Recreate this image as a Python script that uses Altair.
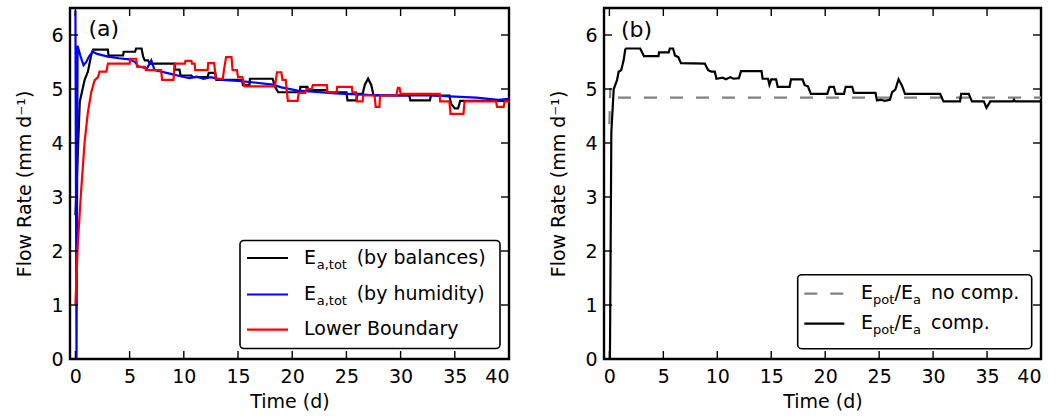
import altair as alt
import pandas as pd

# ---------------- data ----------------
bal_t = [0.0, 0.4, 0.85, 1.15, 1.45, 1.62, 3.0, 3.05, 4.4, 4.45, 5.5, 5.6, 6.1, 6.25, 6.4, 6.7, 6.85,
         9.15, 9.2, 9.6, 9.7, 10.7, 10.8, 12.2, 12.3, 12.9, 13.0, 15.4, 15.45, 16.05, 16.1, 18.2, 18.4,
         18.7, 20.7, 20.75, 21.4, 21.5, 23.2, 23.25, 25.0, 25.1, 25.9, 26.05, 26.5, 26.7, 27.0, 27.3,
         27.5, 30.8, 30.9, 32.7, 32.8, 34.5, 34.65, 35.0, 35.3, 35.5, 40.0]
bal_v = [2.66, 4.76, 5.17, 5.32, 5.62, 5.73, 5.73, 5.62, 5.62, 5.69, 5.69, 5.75, 5.75, 5.6, 5.53, 5.53, 5.47,
         5.47, 5.36, 5.36, 5.25, 5.25, 5.22, 5.22, 5.3, 5.3, 5.17, 5.17, 5.07, 5.07, 5.19, 5.19, 5.05,
         4.94, 4.94, 5.04, 5.04, 4.98, 4.98, 4.94, 4.94, 4.79, 4.79, 4.91, 4.91, 5.08, 5.19, 5.07,
         4.88, 4.88, 4.79, 4.79, 4.88, 4.88, 4.73, 4.64, 4.64, 4.78, 4.78]

hum_t = [0.0, 0.1, 0.2, 0.45, 0.75, 1.0, 1.25, 1.6, 2.0, 3.0, 4.0, 5.0, 5.5, 5.8, 6.6, 7.0, 7.3, 8.8,
         9.6, 10.5, 11.2, 11.8, 12.5, 13.5, 15.0, 16.5, 18.2, 19.0, 20.5, 21.9, 24.0, 27.0, 30.0, 33.0,
         35.0, 37.0, 39.0, 40.0]
hum_v = [6.45, 0.0, 5.8, 5.62, 5.44, 5.5, 5.6, 5.69, 5.65, 5.6, 5.57, 5.55, 5.5, 5.42, 5.38, 5.53, 5.35, 5.28,
         5.24, 5.2, 5.23, 5.19, 5.22, 5.17, 5.15, 5.12, 5.08, 5.03, 4.97, 4.95, 4.92, 4.89, 4.88, 4.88,
         4.86, 4.84, 4.8, 4.82]

low_t = [0.0, 0.23, 0.54, 0.85, 1.15, 1.46, 1.77, 2.08, 2.23, 2.85, 3.0, 5.0, 5.05, 5.6, 5.7, 6.4, 6.5,
         7.9, 8.0, 9.05, 9.15, 10.1, 10.15, 10.7, 10.75, 11.0, 11.05, 12.2, 12.25, 12.8, 12.95, 13.6,
         13.7, 13.9, 14.4, 14.5, 14.9, 15.0, 15.4, 15.6, 18.4, 18.6, 19.0, 19.1, 19.4, 19.6, 20.5, 20.6,
         21.2, 21.3, 21.8, 21.9, 23.2, 23.25, 24.1, 24.15, 25.5, 25.55, 25.9, 25.95, 26.5, 26.55, 27.6,
         27.7, 28.05, 28.1, 29.6, 29.75, 29.9, 30.0, 33.6, 33.65, 34.5, 34.6, 35.8, 35.9, 38.8, 38.9,
         39.5, 39.6, 40.0]
low_v = [1.0, 2.17, 3.15, 4.02, 4.57, 4.94, 5.16, 5.22, 5.32, 5.32, 5.47, 5.47, 5.56, 5.56, 5.41, 5.41, 5.35,
         5.35, 5.17, 5.17, 5.47, 5.47, 5.52, 5.52, 5.47, 5.47, 5.35, 5.35, 5.48, 5.48, 5.19, 5.19,
         5.35, 5.59, 5.59, 5.35, 5.35, 5.22, 5.22, 5.05, 5.05, 5.31, 5.31, 5.17, 5.17, 4.78, 4.78, 4.93,
         4.93, 5.0, 5.0, 5.07, 5.07, 4.94, 4.94, 5.04, 5.04, 4.94, 4.94, 4.77, 4.77, 4.88, 4.88,
         4.67, 4.67, 4.88, 4.88, 5.02, 5.02, 4.91, 4.91, 4.77, 4.77, 4.54, 4.54, 4.77, 4.77, 4.67,
         4.67, 4.77, 4.77]

comp_t = [0.05, 0.18, 0.4, 0.7, 0.86, 1.1, 1.32, 1.47, 1.55, 2.85, 3.2, 4.55, 4.6, 5.5, 5.6, 5.9, 6.08,
          6.39, 6.63, 8.84, 9.15, 9.46, 9.77, 9.92, 10.5, 10.8, 11.2, 11.5, 12.0, 12.2, 14.1, 14.2, 14.7,
          14.83, 15.0, 15.45, 15.6, 16.7, 16.83, 17.9, 18.1, 18.4, 18.67, 20.2, 20.4, 20.8, 20.98, 21.74,
          21.9, 22.5, 22.66, 24.66, 24.8, 25.2, 25.5, 26.0, 26.2, 26.5, 26.8, 27.1, 27.4, 30.65, 30.96,
          32.5, 32.6, 33.3, 33.6, 34.7, 34.95, 35.3, 37.4, 37.5, 37.6, 40.0]
comp_v = [0.0, 4.2, 5.0, 5.16, 5.32, 5.35, 5.53, 5.73, 5.75, 5.75, 5.61, 5.61, 5.68, 5.68, 5.75, 5.75, 5.62,
          5.59, 5.48, 5.47, 5.35, 5.32, 5.32, 5.19, 5.21, 5.18, 5.22, 5.19, 5.2, 5.33, 5.33, 5.19, 5.19,
          5.08, 5.18, 5.18, 5.04, 5.04, 5.18, 5.18, 5.07, 5.05, 4.91, 4.91, 5.04, 5.04, 4.91, 4.91,
          5.04, 5.04, 4.93, 4.93, 4.79, 4.8, 4.78, 4.8, 4.94, 4.99, 5.18, 5.07, 4.91, 4.91, 4.77,
          4.77, 4.91, 4.91, 4.77, 4.77, 4.65, 4.77, 4.77, 4.8, 4.77, 4.77]

nocomp_t = [0.0, 0.08, 0.25, 40.0]
nocomp_v = [4.35, 5.02, 4.84, 4.84]

x_ticks = [0, 5, 10, 15, 20, 25, 30, 35, 40]
y_ticks = [0, 1, 2, 3, 4, 5, 6]

# ---------------- styling ----------------
FONT = "DejaVu Sans"
FS = 19
H = 351
WA, WB = 439, 437
TICK = 8
X_TITLE = "Time (d)"
Y_TITLE = "Flow Rate (mm d\u207b\u00b9)"

xscale = alt.Scale(domain=[-0.5, 40], nice=False, zero=False)
yscale = alt.Scale(domain=[0, 6.5], nice=False, zero=False)

x_axis = alt.Axis(values=x_ticks, ticks=False, domain=False, grid=False, labelPadding=8,
                  titlePadding=6, format="d")
y_axis = alt.Axis(values=y_ticks, ticks=False, domain=False, grid=False, labelPadding=7,
                  titlePadding=16, format="d")


def series(t, v):
    return pd.DataFrame({"t": t, "v": v, "i": list(range(len(t)))})


def line(t, v, color, dash=None):
    kw = dict(color=color, strokeWidth=2.2, clip=True)
    if dash:
        kw["strokeDash"] = dash
    return alt.Chart(series(t, v)).mark_line(**kw).encode(
        x=alt.X("t:Q", scale=xscale, axis=x_axis, title=X_TITLE),
        y=alt.Y("v:Q", scale=yscale, axis=y_axis, title=Y_TITLE),
        order="i:Q",
    )


def tick_layers(width):
    xt = pd.DataFrame({"t": x_ticks})
    yt = pd.DataFrame({"v": y_ticks})
    common = dict(color="black", strokeWidth=1.4)
    bx = alt.X("t:Q", scale=xscale, axis=x_axis, title=X_TITLE)
    by = alt.Y("v:Q", scale=yscale, axis=y_axis, title=Y_TITLE)
    return [
        alt.Chart(xt).mark_rule(**common).encode(x=bx, y=alt.value(H), y2=alt.value(H - TICK)),
        alt.Chart(xt).mark_rule(**common).encode(x=bx, y=alt.value(0), y2=alt.value(TICK)),
        alt.Chart(yt).mark_rule(**common).encode(y=by, x=alt.value(0), x2=alt.value(TICK)),
        alt.Chart(yt).mark_rule(**common).encode(y=by, x=alt.value(width), x2=alt.value(width - TICK)),
    ]


one = pd.DataFrame({"k": [0]})


def txt(s, x, y, size=FS):
    return alt.Chart(one).mark_text(text=s, font=FONT, fontSize=size, align="left",
                                    baseline="alphabetic", color="black").encode(
        x=alt.value(x), y=alt.value(y))


def box(x1, x2, y1, y2):
    return alt.Chart(one).mark_rect(fill="white", stroke="black", strokeWidth=1.6,
                                    cornerRadius=4).encode(
        x=alt.value(x1), x2=alt.value(x2), y=alt.value(y1), y2=alt.value(y2))


def sample(x1, x2, y, color, dash=None):
    kw = dict(color=color, strokeWidth=2.2)
    if dash:
        kw["strokeDash"] = dash
    return alt.Chart(one).mark_rule(**kw).encode(x=alt.value(x1), x2=alt.value(x2), y=alt.value(y))


SUB = 13

# ---------------- panel (a) ----------------
legend_a = [
    box(170, 430, 232.5, 340.5),
    sample(177, 218, 250, "black"),
    txt("E", 234, 255.7), txt("a,tot", 246.7, 260.7, SUB), txt("(by balances)", 286.7, 255.7),
    sample(177, 218, 286.5, "blue"),
    txt("E", 234, 292.3), txt("a,tot", 246.7, 297.3, SUB), txt("(by humidity)", 286.7, 292.3),
    sample(177, 218, 321.7, "red"),
    txt("Lower Boundary", 234, 327.3),
]

panel_a = alt.layer(
    line(bal_t, bal_v, "black"),
    line(hum_t, hum_v, "blue"),
    line(low_t, low_v, "red"),
    *tick_layers(WA),
    *legend_a,
    txt("(a)", 18.4, 27.5, 22),
).properties(width=WA, height=H)

# ---------------- panel (b) ----------------
legend_b = [
    box(193.7, 427.7, 266.7, 340.7),
    sample(200.3, 240.3, 285.7, "gray", [13, 13]),
    txt("E", 257, 290.7), txt("pot", 269, 295.7, SUB), txt("/E", 290.5, 290.7), txt("a", 309, 295.7, SUB),
    txt("no comp.", 327, 290.7),
    sample(200.3, 240.3, 315.7, "black"),
    txt("E", 257, 320.7), txt("pot", 269, 325.7, SUB), txt("/E", 290.5, 320.7), txt("a", 309, 325.7, SUB),
    txt("comp.", 327, 320.7),
]

panel_b = alt.layer(
    line(nocomp_t, nocomp_v, "gray", [13, 13]),
    line(comp_t, comp_v, "black"),
    *tick_layers(WB),
    *legend_b,
    txt("(b)", 17, 29, 22),
).properties(width=WB, height=H)

chart = alt.hconcat(panel_a, panel_b, spacing=37).properties(
    padding={"left": 14, "top": 6, "right": 0, "bottom": 0}
).configure(background="white").configure_view(
    stroke="black", strokeWidth=2.4
).configure_axis(
    labelFont=FONT, labelFontSize=FS, labelColor="black",
    titleFont=FONT, titleFontSize=FS, titleFontWeight="normal", titleColor="black",
)

chart.save("out.html", embed_options={"renderer": "svg", "actions": False})
